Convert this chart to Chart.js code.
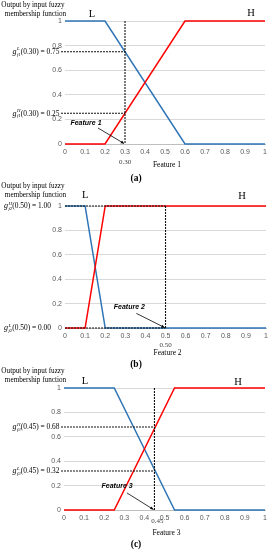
<!DOCTYPE html>
<html>
<head>
<meta charset="utf-8">
<script src="https://cdn.jsdelivr.net/npm/chart.js@4.4.0/dist/chart.umd.min.js"></script>
<style>
body { margin: 0; background: #fff; width: 272px; height: 550px; position: relative; overflow: hidden; }
canvas { position: absolute; left: 0; }
</style>
</head>
<body>
<canvas id="panelA" width="272" height="185" style="top:0px"></canvas>
<canvas id="panelB" width="272" height="190" style="top:180px"></canvas>
<canvas id="panelC" width="272" height="190" style="top:360px"></canvas>
<script>
// tick values
const xTicks = [0, 0.1, 0.2, 0.3, 0.4, 0.5, 0.6, 0.7, 0.8, 0.9, 1];
const yTicks = [0, 0.2, 0.4, 0.6, 0.8, 1];

// membership functions (break points)
const feature1X = [0, 0.2, 0.6, 1];
const feature1Low = [1, 1, 0, 0];
const feature1High = [0, 0, 1, 1];

const feature2X = [0, 0.1, 0.2, 1];
const feature2Low = [1, 1, 0, 0];
const feature2High = [0, 0, 1, 1];

const feature3X = [0, 0.25, 0.55, 1];
const feature3Low = [1, 1, 0, 0];
const feature3High = [0, 0, 1, 1];

// input value and outputs per feature
const featureNames = ['Feature 1', 'Feature 2', 'Feature 3'];
const inputValues = [0.30, 0.50, 0.45];
const lowOutputs = [0.75, 0.00, 0.32];
const highOutputs = [0.25, 1.00, 0.68];
const panelLetters = ['(a)', '(b)', '(c)'];

const BLUE = '#2e75b6';
const RED = '#ff0000';

function toPoints(xs, ys) {
    return xs.map((x, i) => ({ x: x, y: ys[i] }));
}

function drawG(ctx, right, y, sup, sub, rest) {
    const big = '7.4px "Liberation Serif"';
    const it = 'italic 8px "Liberation Serif"';
    const small = 'italic 4.8px "Liberation Serif"';
    ctx.font = big;
    const wr = ctx.measureText(rest).width;
    ctx.font = small;
    const ws = Math.max(ctx.measureText(sup).width, ctx.measureText(sub).width);
    ctx.font = it;
    const wg = ctx.measureText('g').width;
    let x = right - wr - ws - wg - 0.5;
    const base = y + 2.4;
    ctx.textAlign = 'left';
    ctx.textBaseline = 'alphabetic';
    ctx.fillText('g', x, base);
    x += wg + 0.3;
    ctx.font = small;
    ctx.fillText(sup, x, base - 3.7);
    ctx.fillText(sub, x, base + 1.6);
    x += ws + 0.2;
    ctx.font = big;
    ctx.fillText(rest, x, base);
}

function arrow(ctx, x1, y1, x2, y2) {
    ctx.beginPath();
    ctx.moveTo(x1, y1);
    ctx.lineTo(x2, y2);
    ctx.stroke();
    const ang = Math.atan2(y2 - y1, x2 - x1);
    ctx.beginPath();
    ctx.moveTo(x2, y2);
    ctx.lineTo(x2 - 3.5 * Math.cos(ang - 0.45), y2 - 3.5 * Math.sin(ang - 0.45));
    ctx.lineTo(x2 - 3.5 * Math.cos(ang + 0.45), y2 - 3.5 * Math.sin(ang + 0.45));
    ctx.closePath();
    ctx.fill();
}

const panelText = {
    id: 'panelText',
    afterDatasetsDraw(chart, args, o) {
        const ctx = chart.ctx;
        const a = chart.chartArea;
        const px = v => chart.scales.x.getPixelForValue(v);
        const py = v => chart.scales.y.getPixelForValue(v);
        const i = o.index;
        ctx.save();
        ctx.fillStyle = '#000';
        ctx.strokeStyle = '#000';

        // y axis caption
        ctx.textAlign = 'center';
        ctx.textBaseline = 'middle';
        ctx.font = '7.2px "Liberation Serif"';
        ctx.fillText('Output by input fuzzy', 33, o.titleY);
        ctx.fillText('membership function', 35.5, o.titleY + 9.5);

        // L / H names
        ctx.font = '10.5px "Liberation Serif"';
        ctx.fillText('L', px(o.lPos[0]), py(o.lPos[1]));
        ctx.fillText('H', px(o.hPos[0]), py(o.hPos[1]));

        // g labels
        const inp = '(' + inputValues[i].toFixed(2) + ') = ';
        drawG(ctx, o.gRight, py(lowOutputs[i]), 'L', 'f' + (i + 1), inp + lowOutputs[i].toFixed(2));
        drawG(ctx, o.gRight, py(highOutputs[i]), 'H', 'f' + (i + 1), inp + highOutputs[i].toFixed(2));

        // feature annotation with arrow
        ctx.font = 'bold italic 7px "Liberation Sans"';
        ctx.textAlign = 'center';
        ctx.textBaseline = 'middle';
        ctx.fillText(featureNames[i], px(o.note[0]), py(o.note[1]));
        ctx.lineWidth = 0.8;
        arrow(ctx, px(o.arrowFrom[0]), py(o.arrowFrom[1]), px(inputValues[i]) - 1, py(0) - 0.5);

        // input value below the axis
        ctx.font = '7px "Liberation Serif"';
        ctx.fillStyle = '#404040';
        ctx.fillText(inputValues[i].toFixed(2), px(inputValues[i]) + o.inputDx, a.bottom + o.inputDy);

        // axis title
        ctx.fillStyle = '#000';
        ctx.font = '7.5px "Liberation Serif"';
        ctx.fillText(featureNames[i], (a.left + a.right) / 2 + 2, a.bottom + o.axisTitleDy);

        // panel letter
        ctx.font = 'bold 9.5px "Liberation Serif"';
        ctx.fillText(panelLetters[i], 136, o.letterY);
        ctx.restore();
    }
};

function makePanel(id, i, xs, low, high, lay, text) {
    const inp = inputValues[i];
    const dash = (pts) => ({
        data: pts,
        borderColor: '#111',
        borderWidth: 1.1,
        borderDash: [2, 1],
        pointRadius: 0,
        clip: false,
        order: 0
    });
    const guides = [
        dash([{ x: lay.guideStart, y: lowOutputs[i] }, { x: inp, y: lowOutputs[i] }]),
        dash([{ x: lay.guideStart, y: highOutputs[i] }, { x: inp, y: highOutputs[i] }]),
        dash([{ x: inp, y: 1 }, { x: inp, y: 0 }])
    ];
    return new Chart(document.getElementById(id), {
        type: 'line',
        data: {
            datasets: guides.concat([
                { data: toPoints(xs, low), borderColor: BLUE, borderWidth: 1.5, pointRadius: 0, clip: 3, order: 2 },
                { data: toPoints(xs, high), borderColor: RED, borderWidth: 1.5, pointRadius: 0, clip: 3, order: 1 }
            ])
        },
        options: {
            responsive: false,
            animation: false,
            events: [],
            layout: { padding: { top: lay.top, right: lay.right, left: 0, bottom: 0 } },
            plugins: { legend: { display: false }, tooltip: { enabled: false }, panelText: text },
            scales: {
                x: {
                    type: 'linear', min: 0, max: 1,
                    afterBuildTicks: s => { s.ticks = xTicks.map(v => ({ value: v })); },
                    afterFit: s => { s.height = lay.bottom; },
                    ticks: { padding: 4, font: { family: 'Liberation Sans', size: 7 }, color: '#595959', maxRotation: 0, autoSkip: false,
                        callback: v => String(Math.round(v * 10) / 10) },
                    grid: { display: false, drawTicks: false },
                    border: { display: true, color: '#bfbfbf', width: 1 }
                },
                y: {
                    type: 'linear', min: 0, max: 1,
                    afterBuildTicks: s => { s.ticks = yTicks.map(v => ({ value: v })); },
                    afterFit: s => { s.width = lay.left; },
                    ticks: { padding: 3, font: { family: 'Liberation Sans', size: 7 }, color: '#595959',
                        callback: v => String(Math.round(v * 10) / 10) },
                    grid: { color: '#d9d9d9', drawTicks: false },
                    border: { display: false }
                }
            }
        },
        plugins: [panelText]
    });
}

makePanel('panelA', 0, feature1X, feature1Low, feature1High,
    { top: 21, right: 7, left: 65, bottom: 41, guideStart: -0.02 },
    { index: 0, titleY: 5, lPos: [0.135, 1.057], hPos: [0.93, 1.065], gRight: 59.5,
      note: [0.105, 0.17], arrowFrom: [0.165, 0.13], inputDx: 0, inputDy: 18, axisTitleDy: 21, letterY: 179 });

makePanel('panelB', 1, feature2X, feature2Low, feature2High,
    { top: 26, right: 4, left: 65, bottom: 42, guideStart: 0 },
    { index: 1, titleY: 6, lPos: [0.1, 1.09], hPos: [0.88, 1.08], gRight: 51,
      note: [0.32, 0.17], arrowFrom: [0.355, 0.12], inputDx: 0, inputDy: 17, axisTitleDy: 25, letterY: 185 });

makePanel('panelC', 2, feature3X, feature3Low, feature3High,
    { top: 28, right: 7, left: 64, bottom: 40, guideStart: -0.015 },
    { index: 2, titleY: 11, lPos: [0.104, 1.057], hPos: [0.866, 1.05], gRight: 59.5,
      note: [0.264, 0.2], arrowFrom: [0.313, 0.14], inputDx: 3, inputDy: 11, axisTitleDy: 23, letterY: 185 });
</script>
</body>
</html>
